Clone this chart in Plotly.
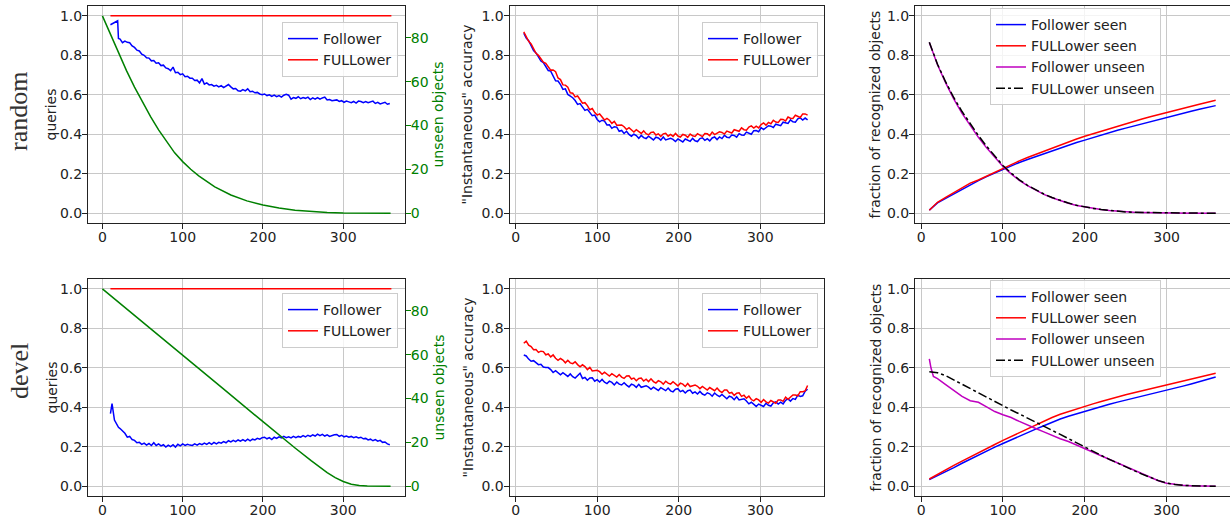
import plotly.graph_objects as go

# ---------------- data ----------------
X10 = list(range(10, 361, 10))        # step-10 sample positions 10..360

# top-left: random ordering, queries
q_rand_follower_head_x = [10, 13, 16, 19, 20]
q_rand_follower_head = [0.955, 0.962, 0.968, 0.975, 0.885]
q_rand_follower_tail = [   # x = 22, 25, 28, ... (step 3)
    0.882, 0.864, 0.872, 0.866, 0.864, 0.848, 0.840, 0.826, 0.822, 0.806,
    0.800, 0.788, 0.786, 0.772, 0.774, 0.760, 0.762, 0.748, 0.750, 0.736,
    0.732, 0.722, 0.740, 0.712, 0.714, 0.702, 0.706, 0.692, 0.694, 0.684,
    0.684, 0.672, 0.674, 0.660, 0.682, 0.654, 0.660, 0.650, 0.652, 0.644,
    0.648, 0.640, 0.646, 0.636, 0.642, 0.652, 0.640, 0.630, 0.632, 0.620,
    0.618, 0.626, 0.620, 0.630, 0.616, 0.618, 0.610, 0.612, 0.604, 0.600,
    0.604, 0.596, 0.600, 0.592, 0.598, 0.590, 0.596, 0.588, 0.598, 0.602,
    0.598, 0.578, 0.586, 0.582, 0.590, 0.580, 0.586, 0.582, 0.588, 0.576,
    0.584, 0.578, 0.586, 0.578, 0.584, 0.588, 0.574, 0.576, 0.570, 0.572,
    0.574, 0.566, 0.570, 0.562, 0.568, 0.564, 0.560, 0.566, 0.558, 0.568,
    0.566, 0.560, 0.566, 0.560, 0.564, 0.568, 0.556, 0.562, 0.554, 0.560,
    0.562, 0.552, 0.556]
q_fuller_x = [10, 360]
q_fuller = [1.0, 1.0]
unseen_rand_x = [0, 10, 20, 30, 40, 50, 60, 70, 80, 90, 100, 110, 120, 140, 160,
                 180, 200, 220, 240, 260, 280, 300, 320, 340, 359]
unseen_rand = [90, 81.5, 73, 65, 57.5, 50.5, 44, 38, 32.5, 27.5, 23.5, 20, 17, 12, 8.3,
               5.6, 3.7, 2.3, 1.3, 0.7, 0.3, 0.1, 0.03, 0.0, 0.0]

# bottom-left: devel ordering, queries
q_devel_follower_head_x = [10, 12, 15, 18, 20]
q_devel_follower_head = [0.368, 0.418, 0.335, 0.310, 0.298]
q_devel_follower_tail = [  # x = 22, 25, 28, ... (step 3)
    0.292, 0.280, 0.268, 0.248, 0.252, 0.236, 0.232, 0.220, 0.222, 0.212,
    0.218, 0.208, 0.216, 0.206, 0.220, 0.206, 0.214, 0.204, 0.210, 0.198,
    0.208, 0.200, 0.210, 0.198, 0.212, 0.204, 0.214, 0.206, 0.212, 0.208,
    0.206, 0.214, 0.208, 0.216, 0.210, 0.218, 0.212, 0.220, 0.212, 0.222,
    0.214, 0.222, 0.218, 0.226, 0.220, 0.230, 0.224, 0.232, 0.226, 0.234,
    0.228, 0.236, 0.228, 0.238, 0.230, 0.238, 0.234, 0.242, 0.238, 0.246,
    0.248, 0.240, 0.246, 0.236, 0.248, 0.242, 0.250, 0.244, 0.252, 0.246,
    0.250, 0.244, 0.252, 0.246, 0.252, 0.248, 0.256, 0.250, 0.258, 0.252,
    0.260, 0.254, 0.264, 0.256, 0.262, 0.254, 0.260, 0.252, 0.258, 0.260,
    0.262, 0.252, 0.258, 0.250, 0.254, 0.248, 0.252, 0.246, 0.250, 0.244,
    0.248, 0.240, 0.242, 0.234, 0.238, 0.230, 0.236, 0.228, 0.232, 0.222,
    0.224, 0.214, 0.210]
unseen_devel_x = [0, 50, 100, 150, 200, 220, 240, 260, 270, 280, 290, 300, 310, 320,
                  330, 340, 350, 359]
unseen_devel = [90, 75, 59.8, 44.6, 29.4, 23.3, 17.4, 11.6, 8.8, 6.2, 3.9, 2.1, 0.9, 0.3,
                0.1, 0.0, 0.0, 0.0]

# top-middle: random ordering, instantaneous accuracy (x = 10, 13, 16, ... step 3)
acc_rand_follower = [
    0.912, 0.887, 0.874, 0.846, 0.824, 0.812, 0.793, 0.771, 0.763, 0.743,
    0.723, 0.720, 0.693, 0.671, 0.670, 0.652, 0.627, 0.630, 0.602, 0.593,
    0.585, 0.571, 0.551, 0.555, 0.537, 0.521, 0.526, 0.511, 0.494, 0.497,
    0.475, 0.463, 0.471, 0.467, 0.447, 0.448, 0.430, 0.438, 0.436, 0.415,
    0.419, 0.404, 0.415, 0.399, 0.390, 0.400, 0.393, 0.379, 0.394, 0.383,
    0.378, 0.390, 0.379, 0.371, 0.385, 0.381, 0.370, 0.386, 0.371, 0.375,
    0.379, 0.374, 0.363, 0.376, 0.367, 0.361, 0.376, 0.371, 0.364, 0.379,
    0.367, 0.363, 0.378, 0.382, 0.369, 0.377, 0.366, 0.381, 0.386, 0.373,
    0.386, 0.378, 0.395, 0.385, 0.382, 0.396, 0.394, 0.385, 0.403, 0.396,
    0.395, 0.411, 0.404, 0.400, 0.418, 0.419, 0.413, 0.434, 0.424, 0.433,
    0.443, 0.441, 0.434, 0.451, 0.446, 0.443, 0.461, 0.459, 0.455, 0.473,
    0.463, 0.461, 0.478, 0.483, 0.472, 0.482, 0.473]
acc_rand_fuller = [
    0.919, 0.896, 0.871, 0.858, 0.833, 0.810, 0.800, 0.783, 0.765, 0.759,
    0.742, 0.725, 0.726, 0.717, 0.685, 0.677, 0.650, 0.649, 0.638, 0.610,
    0.608, 0.589, 0.594, 0.572, 0.557, 0.560, 0.545, 0.524, 0.530, 0.510,
    0.497, 0.503, 0.486, 0.472, 0.480, 0.471, 0.455, 0.465, 0.446, 0.446,
    0.447, 0.438, 0.424, 0.433, 0.421, 0.411, 0.423, 0.414, 0.404, 0.417,
    0.403, 0.397, 0.409, 0.411, 0.396, 0.402, 0.389, 0.402, 0.405, 0.390,
    0.399, 0.389, 0.404, 0.391, 0.386, 0.399, 0.395, 0.384, 0.401, 0.392,
    0.389, 0.403, 0.394, 0.388, 0.404, 0.402, 0.393, 0.411, 0.398, 0.404,
    0.412, 0.409, 0.401, 0.416, 0.410, 0.406, 0.423, 0.420, 0.415, 0.432,
    0.423, 0.420, 0.436, 0.442, 0.431, 0.441, 0.432, 0.449, 0.457, 0.446,
    0.460, 0.453, 0.471, 0.462, 0.460, 0.476, 0.475, 0.467, 0.487, 0.481,
    0.480, 0.496, 0.489, 0.485, 0.503, 0.503, 0.497]

# bottom-middle: devel ordering, instantaneous accuracy (x = 10, 13, 16, ... step 3)
acc_devel_follower = [
    0.665, 0.660, 0.644, 0.633, 0.636, 0.628, 0.616, 0.618, 0.604, 0.601,
    0.601, 0.591, 0.576, 0.585, 0.573, 0.564, 0.575, 0.566, 0.556, 0.569,
    0.555, 0.548, 0.560, 0.572, 0.546, 0.551, 0.537, 0.548, 0.549, 0.532,
    0.540, 0.528, 0.541, 0.527, 0.520, 0.532, 0.526, 0.513, 0.528, 0.517,
    0.513, 0.524, 0.512, 0.503, 0.517, 0.512, 0.501, 0.516, 0.501, 0.504,
    0.509, 0.502, 0.491, 0.502, 0.493, 0.485, 0.499, 0.492, 0.484, 0.497,
    0.483, 0.478, 0.491, 0.494, 0.479, 0.485, 0.472, 0.484, 0.487, 0.471,
    0.478, 0.467, 0.480, 0.467, 0.461, 0.473, 0.468, 0.456, 0.472, 0.461,
    0.454, 0.465, 0.453, 0.443, 0.456, 0.451, 0.438, 0.453, 0.437, 0.439,
    0.443, 0.432, 0.417, 0.425, 0.414, 0.404, 0.416, 0.411, 0.404, 0.420,
    0.410, 0.406, 0.422, 0.427, 0.416, 0.426, 0.417, 0.435, 0.442, 0.431,
    0.444, 0.440, 0.461, 0.455, 0.458, 0.481, 0.491]
acc_devel_fuller = [
    0.724, 0.735, 0.715, 0.707, 0.691, 0.692, 0.678, 0.684, 0.682, 0.666,
    0.670, 0.655, 0.665, 0.648, 0.638, 0.647, 0.639, 0.625, 0.638, 0.625,
    0.621, 0.630, 0.616, 0.605, 0.615, 0.606, 0.591, 0.602, 0.584, 0.585,
    0.587, 0.580, 0.567, 0.578, 0.567, 0.558, 0.570, 0.562, 0.553, 0.566,
    0.553, 0.546, 0.558, 0.559, 0.543, 0.548, 0.534, 0.546, 0.548, 0.533,
    0.542, 0.530, 0.544, 0.530, 0.523, 0.535, 0.529, 0.517, 0.532, 0.522,
    0.517, 0.529, 0.517, 0.508, 0.522, 0.517, 0.505, 0.520, 0.505, 0.508,
    0.513, 0.506, 0.494, 0.505, 0.495, 0.487, 0.500, 0.493, 0.484, 0.497,
    0.483, 0.475, 0.487, 0.487, 0.471, 0.475, 0.460, 0.471, 0.473, 0.455,
    0.461, 0.446, 0.456, 0.439, 0.432, 0.443, 0.437, 0.424, 0.439, 0.427,
    0.421, 0.434, 0.425, 0.420, 0.437, 0.437, 0.430, 0.451, 0.440, 0.450,
    0.462, 0.462, 0.458, 0.479, 0.479, 0.483, 0.510]

# top-right: random ordering, fraction of recognized objects (x = X10)
frac_rand_follower_seen = [
    0.015, 0.052, 0.075, 0.098, 0.120, 0.145, 0.165, 0.185, 0.204, 0.222,
    0.240, 0.257, 0.272, 0.287, 0.302, 0.316, 0.331, 0.345, 0.358, 0.370,
    0.383, 0.396, 0.408, 0.420, 0.431, 0.442, 0.453, 0.465, 0.476, 0.487,
    0.497, 0.507, 0.517, 0.527, 0.536, 0.545]
frac_rand_fuller_seen = [
    0.015, 0.055, 0.080, 0.105, 0.128, 0.152, 0.168, 0.188, 0.208, 0.228,
    0.247, 0.265, 0.282, 0.298, 0.314, 0.330, 0.346, 0.361, 0.376, 0.390,
    0.403, 0.416, 0.429, 0.441, 0.453, 0.465, 0.477, 0.489, 0.500, 0.511,
    0.522, 0.532, 0.542, 0.552, 0.562, 0.572]
frac_rand_follower_unseen = [
    0.865, 0.752, 0.660, 0.578, 0.506, 0.442, 0.384, 0.331, 0.281, 0.236,
    0.199, 0.166, 0.139, 0.115, 0.095, 0.078, 0.063, 0.050, 0.039, 0.031,
    0.024, 0.018, 0.013, 0.009, 0.006, 0.004, 0.003, 0.002, 0.001, 0.001,
    0.0, 0.0, 0.0, 0.0, 0.0, 0.0]
frac_rand_fuller_unseen = [
    0.866, 0.755, 0.665, 0.585, 0.515, 0.452, 0.393, 0.339, 0.288, 0.241,
    0.203, 0.169, 0.141, 0.117, 0.097, 0.079, 0.064, 0.051, 0.040, 0.031,
    0.024, 0.018, 0.013, 0.009, 0.006, 0.004, 0.003, 0.002, 0.001, 0.001,
    0.0, 0.0, 0.0, 0.0, 0.0, 0.0]

# bottom-right: devel ordering, fraction of recognized objects
frac_devel_follower_seen = [
    0.033, 0.052, 0.073, 0.094, 0.116, 0.137, 0.156, 0.177, 0.198, 0.216,
    0.235, 0.254, 0.272, 0.289, 0.306, 0.324, 0.340, 0.354, 0.367, 0.380,
    0.393, 0.405, 0.415, 0.426, 0.436, 0.445, 0.455, 0.465, 0.474, 0.485,
    0.496, 0.507, 0.518, 0.530, 0.540, 0.553]
frac_devel_fuller_seen = [
    0.036, 0.060, 0.083, 0.105, 0.127, 0.149, 0.170, 0.191, 0.211, 0.232,
    0.252, 0.272, 0.292, 0.311, 0.330, 0.348, 0.364, 0.378, 0.392, 0.405,
    0.417, 0.429, 0.441, 0.452, 0.463, 0.473, 0.483, 0.493, 0.503, 0.513,
    0.523, 0.533, 0.543, 0.553, 0.562, 0.572]
frac_devel_follower_unseen_x = [10, 12, 15] + list(range(20, 361, 10))
frac_devel_follower_unseen = [
    0.645, 0.600, 0.556, 0.545, 0.515, 0.485, 0.455, 0.433, 0.425, 0.402,
    0.378, 0.362, 0.348, 0.328, 0.308, 0.292, 0.275, 0.257, 0.240, 0.226,
    0.208, 0.191, 0.172, 0.153, 0.136, 0.117, 0.098, 0.079, 0.061, 0.043,
    0.027, 0.015, 0.008, 0.004, 0.002, 0.001, 0.0, 0.0]
frac_devel_fuller_unseen = [
    0.580, 0.575, 0.560, 0.538, 0.514, 0.492, 0.472, 0.450, 0.428, 0.406,
    0.386, 0.366, 0.346, 0.326, 0.305, 0.283, 0.262, 0.241, 0.219, 0.197,
    0.176, 0.156, 0.136, 0.116, 0.097, 0.079, 0.061, 0.044, 0.028, 0.016,
    0.008, 0.004, 0.002, 0.001, 0.0, 0.0]

row_labels = ["random", "devel"]
x_ticks = [0, 100, 200, 300]
y_ticks = [0.0, 0.2, 0.4, 0.6, 0.8, 1.0]
unseen_ticks = [0, 20, 40, 60, 80]

def steps(start, step, n):
    return [start + step * k for k in range(n)]

q_rand_follower_x = q_rand_follower_head_x + steps(22, 3, len(q_rand_follower_tail))
q_rand_follower = q_rand_follower_head + q_rand_follower_tail
q_devel_follower_x = q_devel_follower_head_x + steps(22, 3, len(q_devel_follower_tail))
q_devel_follower = q_devel_follower_head + q_devel_follower_tail
acc_x = steps(10, 3, len(acc_rand_follower))

# ---------------- styling / layout ----------------
W, H = 1230, 515
BLUE, RED, GREEN, MAG, BLACK = "#0000ff", "#ff0000", "#008000", "#bf00bf", "#000000"
FONT = "DejaVu Sans"
COLS = [(88, 405), (509.5, 823.5), (915, 1230)]
ROWS = [(6, 223), (279, 496)]
XRANGES = [[-17.95, 376.95], [-7.5, 377.5], [-7.5, 377.5]]

fig = go.Figure()
layout = dict(width=W, height=H, margin=dict(l=0, r=0, t=0, b=0, autoexpand=False),
              paper_bgcolor="white", plot_bgcolor="white",
              font=dict(family=FONT, size=14, color="#222"), showlegend=True)

def ax_name(kind, i):
    return kind + ("" if i == 1 else str(i))

for r in range(2):
    for c in range(3):
        i = r * 3 + c + 1
        layout[ax_name("xaxis", i)] = dict(
            domain=[COLS[c][0] / W, min(COLS[c][1] / W, 1.0)], anchor=ax_name("y", i),
            range=XRANGES[c], tickvals=x_ticks, ticks="outside", ticklen=5,
            tickcolor="#222", showline=True, linecolor="#222", linewidth=1, mirror=True,
            showgrid=True, gridcolor="#c8c8c8", gridwidth=1, zeroline=False,
            automargin=False, ticklabelstandoff=-4, tickfont=dict(size=14, color="#222"))
        layout[ax_name("yaxis", i)] = dict(
            domain=[1 - ROWS[r][1] / H, 1 - ROWS[r][0] / H], anchor=ax_name("x", i),
            range=[-0.05, 1.05], tickvals=y_ticks, tickformat=".1f", ticks="outside",
            ticklen=5, tickcolor="#222", showline=True, linecolor="#222", linewidth=1,
            mirror=True, showgrid=True, gridcolor="#c8c8c8", gridwidth=1, zeroline=False,
            automargin=False, ticklabelstandoff=-3, tickfont=dict(size=14, color="#222"))

for j, base in [(7, 1), (8, 4)]:
    layout[f"yaxis{j}"] = dict(
        overlaying=ax_name("y", base), anchor=ax_name("x", base), side="right",
        range=[-4.5, 94.5], tickvals=unseen_ticks, ticks="outside", ticklen=5,
        tickcolor=GREEN, tickfont=dict(size=14, color=GREEN), showgrid=False,
        zeroline=False, showline=True, linecolor="#222", linewidth=1, automargin=False,
        ticklabelstandoff=-3)

def legend_at(right_px, top_px):
    return dict(x=right_px / W, y=1 - top_px / H, xanchor="right", yanchor="top",
                bgcolor="rgba(255,255,255,0.8)", bordercolor="#cccccc", borderwidth=1,
                font=dict(family=FONT, size=14, color="#222"), tracegroupgap=0,
                itemwidth=30)

layout["legend"] = legend_at(398, 22)
layout["legend2"] = legend_at(818, 22)
layout["legend3"] = legend_at(1161, 8)
layout["legend4"] = legend_at(398, 293)
layout["legend5"] = legend_at(818, 293)
layout["legend6"] = legend_at(1161, 280)

def line(x, y, color, name, xa, ya, legend, show=True, dash="solid"):
    fig.add_trace(go.Scatter(x=x, y=y, mode="lines", name=name,
                             line=dict(color=color, width=1.5, dash=dash),
                             xaxis=xa, yaxis=ya, legend=legend, showlegend=show,
                             hoverinfo="skip"))

# top-left
line(q_rand_follower_x, q_rand_follower, BLUE, "Follower", "x", "y", "legend")
line(q_fuller_x, q_fuller, RED, "FULLower", "x", "y", "legend")
line(unseen_rand_x, unseen_rand, GREEN, "unseen", "x", "y7", "legend", show=False)
# top-middle
line(acc_x, acc_rand_follower, BLUE, "Follower", "x2", "y2", "legend2")
line(acc_x, acc_rand_fuller, RED, "FULLower", "x2", "y2", "legend2")
# top-right
line(X10, frac_rand_follower_seen, BLUE, "Follower seen", "x3", "y3", "legend3")
line(X10, frac_rand_fuller_seen, RED, "FULLower seen", "x3", "y3", "legend3")
line(X10, frac_rand_follower_unseen, MAG, "Follower unseen", "x3", "y3", "legend3")
line(X10, frac_rand_fuller_unseen, BLACK, "FULLower unseen", "x3", "y3", "legend3",
     dash="dashdot")
# bottom-left
line(q_devel_follower_x, q_devel_follower, BLUE, "Follower", "x4", "y4", "legend4")
line(q_fuller_x, q_fuller, RED, "FULLower", "x4", "y4", "legend4")
line(unseen_devel_x, unseen_devel, GREEN, "unseen", "x4", "y8", "legend4", show=False)
# bottom-middle
line(acc_x, acc_devel_follower, BLUE, "Follower", "x5", "y5", "legend5")
line(acc_x, acc_devel_fuller, RED, "FULLower", "x5", "y5", "legend5")
# bottom-right
line(X10, frac_devel_follower_seen, BLUE, "Follower seen", "x6", "y6", "legend6")
line(X10, frac_devel_fuller_seen, RED, "FULLower seen", "x6", "y6", "legend6")
line(frac_devel_follower_unseen_x, frac_devel_follower_unseen, MAG, "Follower unseen",
     "x6", "y6", "legend6")
line(X10, frac_devel_fuller_unseen, BLACK, "FULLower unseen", "x6", "y6", "legend6",
     dash="dashdot")

annotations = []
def label(text, xpx, ypx, color="#222", size=14, family=FONT):
    annotations.append(dict(text=text, x=xpx / W, y=1 - ypx / H, xref="paper",
                            yref="paper", showarrow=False, textangle=-90,
                            xanchor="center", yanchor="middle",
                            font=dict(size=size, color=color, family=family)))

for r, (top, bot) in enumerate(ROWS):
    mid = (top + bot) / 2
    label("queries", 51, mid)
    label("unseen objects", 438, mid, color=GREEN)
    label('"Instantaneous" accuracy', 467, mid)
    label("fraction of recognized objects", 875, mid)
label(row_labels[0], 19, 112, color="#333", size=26, family="Liberation Serif")
label(row_labels[1], 19, 371, color="#333", size=26, family="Liberation Serif")
layout["annotations"] = annotations

fig.update_layout(**layout)
fig.write_html("out.html", config={"displayModeBar": False},
               post_script="document.body.style.margin='0px';"
                           "document.body.style.overflow='hidden';")
